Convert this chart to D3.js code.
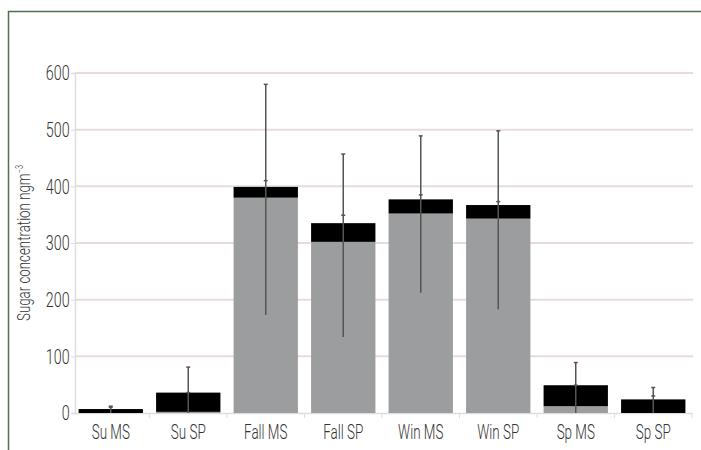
<!DOCTYPE html>
<html><head><meta charset="utf-8">
<script src="https://cdn.jsdelivr.net/npm/d3@7"></script>
<style>
body{margin:0;background:#fff;}
text{font-family:Roboto,"Open Sans",sans-serif;font-weight:300;}
</style></head>
<body><svg id="c" width="701" height="450"></svg>
<script>
const categories = ["Su MS","Su SP","Fall MS","Fall SP","Win MS","Win SP","Sp MS","Sp SP"];
const greyValues = [0, 2, 380, 302, 352, 343, 12, 0];
const totalValues = [7, 36, 399, 335, 377, 367, 49, 24];
const errHigh = [12, 81, 580, 457, 489, 498, 89, 45];
const errLow = [0, 0, 173, 134, 212, 183, 0, 0];
const errMid = [10, 36, 410, 349, 385, 373, 49, 30];
const yTicks = [0,100,200,300,400,500,600];

const svg = d3.select("#c");
const x = d3.scaleBand().domain(categories).range([72, 692]).paddingInner(0.17).paddingOuter(0.085);
const y = d3.scaleLinear().domain([0,600]).range([413, 73]);

// frame
svg.append("line").attr("x1",8).attr("x2",701).attr("y1",11.5).attr("y2",11.5).attr("stroke","#4d7152").attr("stroke-width",1.5);
svg.append("line").attr("x1",8.5).attr("x2",8.5).attr("y1",11).attr("y2",450).attr("stroke","#4d7152").attr("stroke-width",1.5);

// grid
svg.append("g").selectAll("line").data(yTicks.filter(d=>d>0)).join("line")
  .attr("x1",75).attr("x2",693).attr("y1",d=>y(d)).attr("y2",d=>y(d))
  .attr("stroke","#e6dcdc").attr("stroke-width",2);

// y axis
const ya = svg.append("g").attr("transform","translate(75,0)").call(d3.axisLeft(y).tickValues(yTicks).tickSize(4).tickPadding(4));
ya.select(".domain").attr("stroke","#ddd").attr("stroke-width",1.5);
ya.selectAll(".tick line").attr("stroke","#ddd");
ya.selectAll("text").attr("font-size",21).attr("fill","#333").attr("transform","scale(0.68,1)");

// x axis
const xa = svg.append("g").attr("transform","translate(0,413)").call(d3.axisBottom(x).tickSize(0).tickPadding(11));
xa.select(".domain").attr("stroke","#ddd").attr("stroke-width",1.5);
xa.selectAll("text").attr("font-size",21).attr("fill","#333").attr("transform","scale(0.64,1)");
// boundary ticks
const step = x.step();
svg.append("g").selectAll("line").data(categories).join("line")
  .attr("x1",d=>x(d)+x.bandwidth()+(step-x.bandwidth())/2).attr("x2",d=>x(d)+x.bandwidth()+(step-x.bandwidth())/2)
  .attr("y1",413).attr("y2",418).attr("stroke","#ddd");

// bars
const bars = svg.append("g");
bars.selectAll("rect.g").data(categories).join("rect").attr("class","g")
  .attr("x",d=>x(d)).attr("width",x.bandwidth())
  .attr("y",(d,i)=>y(greyValues[i])).attr("height",(d,i)=>y(0)-y(greyValues[i]))
  .attr("fill","#9b9d9f");
bars.selectAll("rect.b").data(categories).join("rect").attr("class","b")
  .attr("x",d=>x(d)).attr("width",x.bandwidth())
  .attr("y",(d,i)=>y(totalValues[i])).attr("height",(d,i)=>y(greyValues[i])-y(totalValues[i]))
  .attr("fill","#000");

// error bars
const eb = svg.append("g");
eb.selectAll("line.w").data(categories).join("line").attr("class","w")
  .attr("x1",d=>x(d)+x.bandwidth()/2).attr("x2",d=>x(d)+x.bandwidth()/2)
  .attr("y1",(d,i)=>y(errLow[i])).attr("y2",(d,i)=>y(errHigh[i]))
  .attr("stroke","#555").attr("stroke-width",1.5);
eb.selectAll("line.c").data(categories).join("line").attr("class","c")
  .attr("x1",d=>x(d)+x.bandwidth()/2-2).attr("x2",d=>x(d)+x.bandwidth()/2+2)
  .attr("y1",(d,i)=>y(errHigh[i])).attr("y2",(d,i)=>y(errHigh[i]))
  .attr("stroke","#555").attr("stroke-width",1.5);
eb.selectAll("line.m").data(categories).join("line").attr("class","m")
  .attr("x1",d=>x(d)+x.bandwidth()/2-2).attr("x2",d=>x(d)+x.bandwidth()/2+2)
  .attr("y1",(d,i)=>y(errMid[i])).attr("y2",(d,i)=>y(errMid[i]))
  .attr("stroke","#555").attr("stroke-width",1.5);

// y label
const yl = svg.append("text").attr("transform","translate(30,243) rotate(-90) scale(0.74,1)")
  .attr("text-anchor","middle").attr("font-size",18).attr("fill","#333");
yl.append("tspan").text("Sugar concentration ngm");
yl.append("tspan").text("\u22123").attr("font-size",10).attr("dy",-7);
</script></body></html>
